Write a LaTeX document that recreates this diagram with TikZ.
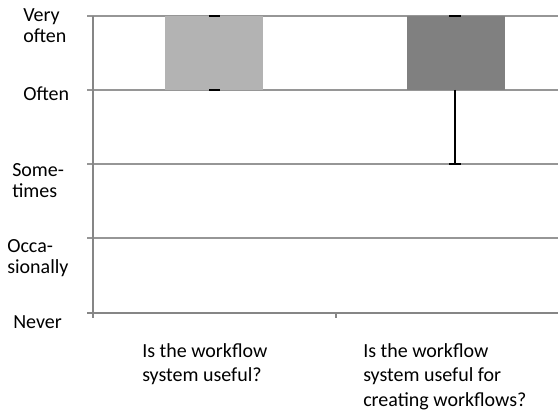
\documentclass[tikz,border=0pt]{standalone}
\usepackage{fontspec}
\setmainfont{Carlito}
\definecolor{gridgray}{RGB}{150,150,150}
\definecolor{axisgray}{RGB}{134,134,134}
\definecolor{barlight}{RGB}{179,179,179}
\definecolor{bardark}{RGB}{128,128,128}

\tikzstyle{lvl} = [anchor=base west, align=left, inner sep=0pt, font=\fontsize{15}{15.75}\selectfont]
\tikzstyle{cat} = [anchor=base west, align=left, inner sep=0pt, font=\fontsize{15}{18}\selectfont]
\tikzstyle{gridline} = [draw=gridgray, line width=1.5pt]
\tikzstyle{axisline} = [draw=axisgray, line width=1.5pt]
\tikzstyle{errbar} = [draw=black, line width=1.5pt]

\begin{document}
\begin{tikzpicture}[x=0.75pt, y=-0.75pt]
\useasboundingbox (0,0) rectangle (558,410);

% grid and axes
\foreach \y in {16,90,164,238} {
    \draw[gridline] (87,\y) -- (558,\y);
}
\draw[axisline] (87,313) -- (558,313);
\draw[axisline] (93,16) -- (93,318);
\draw[axisline] (335.5,313) -- (335.5,318);

% bars
\fill[barlight] (165,16) rectangle (263,90);
\fill[bardark] (407,16) rectangle (505,90);

% error bars
\draw[errbar] (209,16) -- (220,16);
\draw[errbar] (209,90) -- (220,90);
\draw[errbar] (449,16) -- (461,16);
\draw[errbar] (455,90) -- (455,164);
\draw[errbar] (449,164) -- (461,164);

% level labels (anchored at the last line's baseline)
\node[lvl] (veryoften) at (23,43) {Very\\often};
\node[lvl] (often) at (23,101) {Often};
\node[lvl] (sometimes) at (12,198) {Some-\\times};
\node[lvl] (occasionally) at (7,273) {Occa-\\sionally};
\node[lvl] (never) at (13,329) {Never};

% category labels
\node[cat] (useful) at (142,381) {Is the workflow\\system useful?};
\node[cat] (usefulcreate) at (363,406) {Is the workflow\\system useful for\\creating workflows?};
\end{tikzpicture}
\end{document}
